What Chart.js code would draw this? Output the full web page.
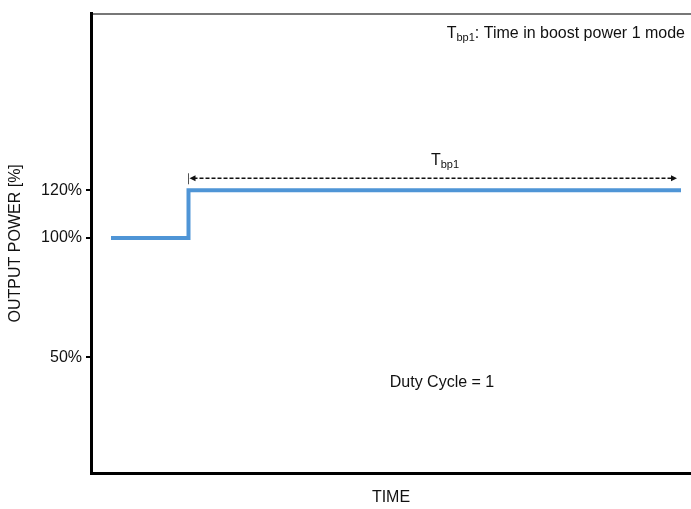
<!DOCTYPE html>
<html>
<head>
<meta charset="utf-8">
<script src="https://cdn.jsdelivr.net/npm/chart.js@4/dist/chart.umd.min.js"></script>
<style>
  html, body { margin: 0; padding: 0; background: #fff; }
  #wrap { width: 691px; height: 509px; }
</style>
</head>
<body>
<div id="wrap"><canvas id="boost"></canvas></div>
<script>
// step profile: time (arbitrary units) vs output power [%]
timeValues = [4, 19.5, 19.5, 118];
powerValues = [100, 100, 120, 120];
yTickValues = [50, 100, 120];
yTickLabels = ["50%", "100%", "120%"];

// Tbp1 span marker (time from/to, drawn at power level), label spot
tbpSpan = [19.5, 117.2];
tbpLevel = 125;
tbpLabelAt = [70.8, 130];
dutyLabelAt = [70.2, 39.5];

var FONT = "'Liberation Sans', Arial, sans-serif";
var BLUE = '#4f95d6';

// writes "T" + subscript "bp1" (+ optional tail) at x,y; align: 'right' or 'center'
function drawTbp(ctx, x, y, tail, align){
    ctx.save();
    ctx.textBaseline = 'alphabetic';
    ctx.fillStyle = '#111';
    var big = '16px ' + FONT, small = '11px ' + FONT;
    ctx.font = big; var wT = ctx.measureText('T').width;
    ctx.font = small; var wS = ctx.measureText('bp1').width;
    ctx.font = big; var wTail = tail ? ctx.measureText(tail).width : 0;
    var w = wT + wS + wTail;
    var x0 = align == 'center' ? x - w / 2 : x - w;
    ctx.font = big; ctx.fillText('T', x0, y);
    ctx.font = small; ctx.fillText('bp1', x0 + wT, y + 3);
    if (tail) { ctx.font = big; ctx.fillText(tail, x0 + wT + wS, y); }
    ctx.restore();
}

var notes = {
    id: 'notes',
    afterDatasetsDraw: function(chart){
        var ctx = chart.ctx;
        var xs = chart.scales.x, ys = chart.scales.y;
        var xa = xs.getPixelForValue(tbpSpan[0]);
        var xb = xs.getPixelForValue(tbpSpan[1]);
        var ya = ys.getPixelForValue(tbpLevel);
        ctx.save();
        // dashed span line
        ctx.strokeStyle = '#111';
        ctx.lineWidth = 1.4;
        ctx.setLineDash([4, 2]);
        ctx.beginPath(); ctx.moveTo(xa + 5, ya); ctx.lineTo(xb - 4, ya); ctx.stroke();
        ctx.setLineDash([]);
        // start bar
        ctx.lineWidth = 1;
        ctx.strokeStyle = '#555';
        ctx.beginPath(); ctx.moveTo(xa, ya - 5); ctx.lineTo(xa, ya + 6); ctx.stroke();
        // arrow heads
        ctx.fillStyle = '#111';
        ctx.beginPath(); ctx.moveTo(xa + 1, ya); ctx.lineTo(xa + 7, ya - 3); ctx.lineTo(xa + 7, ya + 3); ctx.closePath(); ctx.fill();
        ctx.beginPath(); ctx.moveTo(xb, ya); ctx.lineTo(xb - 6, ya - 3); ctx.lineTo(xb - 6, ya + 3); ctx.closePath(); ctx.fill();
        ctx.restore();

        drawTbp(ctx, xs.getPixelForValue(tbpLabelAt[0]), ys.getPixelForValue(tbpLabelAt[1]) - 1, '', 'center');
        drawTbp(ctx, xs.getPixelForValue(118.8), 38, ': Time in boost power 1 mode', 'right');

        ctx.save();
        ctx.font = '16px ' + FONT;
        ctx.fillStyle = '#111';
        ctx.textAlign = 'center';
        ctx.textBaseline = 'middle';
        ctx.fillText('Duty Cycle = 1', xs.getPixelForValue(dutyLabelAt[0]), ys.getPixelForValue(dutyLabelAt[1]));
        ctx.restore();
    }
};

document.addEventListener('DOMContentLoaded', function() {
    var pts = [];
    for (var i = 0; i < timeValues.length; i++) {
        pts.push({x: timeValues[i], y: powerValues[i]});
    }
    var ctx = document.getElementById('boost').getContext('2d');
    new Chart(ctx, {
        type: 'line',
        data: {
            datasets: [{
                data: pts,
                borderColor: BLUE,
                borderWidth: 4,
                pointRadius: 0,
                tension: 0,
                fill: false
            }]
        },
        options: {
            responsive: true,
            maintainAspectRatio: false,
            animation: false,
            layout: { padding: 0 },
            plugins: { legend: { display: false }, tooltip: { enabled: false } },
            scales: {
                x: {
                    type: 'linear',
                    min: 0, max: 120,
                    grid: { display: false },
                    border: { display: true, color: '#000', width: 3 },
                    ticks: { display: false },
                    title: { display: true, text: 'TIME', color: '#111',
                             font: { family: FONT, size: 16 }, padding: { top: 0, bottom: 2 } },
                    afterFit: function(s){ s.height = 36; }
                },
                top: {
                    type: 'linear',
                    position: 'top',
                    min: 0, max: 120,
                    grid: { display: false },
                    border: { display: true, color: '#777', width: 2 },
                    ticks: { display: false },
                    afterFit: function(s){ s.height = 11; }
                },
                y: {
                    type: 'linear',
                    min: 1.5, max: 194,
                    afterBuildTicks: function(s){
                        s.ticks = yTickValues.map(function(v){ return {value: v}; });
                    },
                    ticks: {
                        color: '#111',
                        font: { family: FONT, size: 16 },
                        padding: 4,
                        callback: function(v){ return yTickLabels[yTickValues.indexOf(v)]; }
                    },
                    grid: { display: true, drawOnChartArea: false, drawTicks: true,
                            tickLength: 5, color: '#000', lineWidth: 2 },
                    border: { display: true, color: '#000', width: 3 },
                    title: { display: true, text: 'OUTPUT POWER [%]', color: '#111',
                             font: { family: FONT, size: 16 }, padding: { top: 6, bottom: 0 } },
                    afterFit: function(s){ s.width = 91; }
                }
            }
        },
        plugins: [notes]
    });
});
</script>
</body>
</html>
